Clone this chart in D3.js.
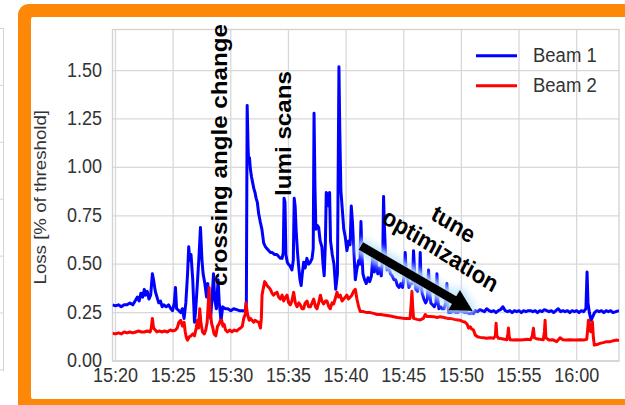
<!DOCTYPE html>
<html>
<head>
<meta charset="utf-8">
<script src="https://cdn.jsdelivr.net/npm/d3@7"></script>
<style>
  html, body { margin: 0; padding: 0; background: #fff; }
  svg { display: block; font-family: "Liberation Sans", Arial, sans-serif; }
</style>
</head>
<body>
<svg id="chart" width="625" height="405"></svg>
<script>
// Beam loss, minutes after 15:20 -> loss [% of threshold]
const beam1 = [
  [-0.26,0.29],[0.0,0.285],[0.25,0.29],[0.5,0.28],[0.75,0.29],[1.0,0.29],[1.25,0.30],[1.5,0.29],
  [1.7,0.31],[1.9,0.33],[2.05,0.31],[2.2,0.35],[2.35,0.33],[2.5,0.37],[2.6,0.34],[2.75,0.36],
  [2.9,0.32],[3.05,0.34],[3.2,0.45],[3.3,0.42],[3.45,0.36],[3.6,0.33],[3.75,0.30],[3.9,0.31],
  [4.05,0.28],[4.2,0.29],[4.4,0.28],[4.6,0.29],[4.8,0.27],[4.95,0.26],[5.1,0.30],[5.2,0.38],
  [5.3,0.27],[5.5,0.26],[5.65,0.25],[5.8,0.27],[5.95,0.22],[6.1,0.30],[6.25,0.45],[6.35,0.59],
  [6.45,0.52],[6.55,0.55],[6.7,0.42],[6.85,0.20],[6.95,0.26],[7.1,0.40],[7.25,0.55],[7.37,0.69],
  [7.5,0.52],[7.6,0.45],[7.75,0.40],[7.9,0.33],[8.0,0.40],[8.1,0.30],[8.25,0.22],[8.4,0.35],
  [8.5,0.45],[8.6,0.32],[8.75,0.27],[8.9,0.42],[9.0,0.30],[9.15,0.21],[9.3,0.28],[9.5,0.27],
  [9.75,0.27],[10.0,0.26],[10.25,0.27],[10.5,0.265],[10.75,0.26],[11.0,0.26],[11.25,0.26],[11.35,0.30],
  [11.42,1.32],[11.5,1.10],[11.55,1.03],[11.62,1.05],[11.7,0.99],[11.8,0.95],[11.9,0.92],[12.0,0.89],
  [12.1,0.87],[12.2,0.84],[12.3,0.82],[12.42,0.76],[12.55,0.72],[12.7,0.68],[12.85,0.61],[13.0,0.59],
  [13.15,0.58],[13.3,0.57],[13.45,0.56],[13.6,0.56],[13.8,0.55],[14.0,0.55],[14.15,0.54],[14.3,0.53],
  [14.45,0.53],[14.55,0.56],[14.62,0.84],[14.7,0.82],[14.78,0.55],[14.9,0.51],[15.0,0.50],[15.15,0.49],
  [15.3,0.47],[15.42,0.52],[15.5,0.84],[15.58,0.80],[15.68,0.66],[15.8,0.55],[15.9,0.48],[16.0,0.42],
  [16.1,0.39],[16.2,0.45],[16.32,0.51],[16.45,0.48],[16.6,0.53],[16.75,0.50],[16.9,0.51],[17.05,0.53],
  [17.15,0.58],[17.22,1.28],[17.3,0.90],[17.38,0.68],[17.5,0.70],[17.62,0.69],[17.75,0.62],[17.9,0.59],
  [18.0,0.50],[18.1,0.44],[18.2,0.60],[18.28,0.87],[18.4,0.86],[18.5,0.80],[18.57,0.87],[18.65,0.62],
  [18.8,0.55],[18.95,0.50],[19.1,0.37],[19.25,0.45],[19.38,1.52],[19.45,1.20],[19.55,0.88],[19.65,0.80],
  [19.8,0.68],[19.93,0.64],[20.07,0.57],[20.22,0.62],[20.35,0.60],[20.45,0.80],[20.55,0.72],[20.65,0.60],
  [20.8,0.42],[20.95,0.48],[21.1,0.52],[21.2,0.50],[21.29,0.72],[21.38,0.55],[21.46,0.45],[21.6,0.42],
  [21.75,0.40],[21.9,0.43],[22.05,0.41],[22.2,0.44],[22.35,0.57],[22.45,0.46],[22.6,0.52],[22.75,0.45],
  [22.9,0.48],[23.05,0.44],[23.18,0.55],[23.25,0.85],[23.32,0.70],[23.42,0.55],[23.55,0.47],[23.7,0.49],
  [23.85,0.45],[24.0,0.44],[24.15,0.42],[24.3,0.42],[24.45,0.39],[24.6,0.38],[24.75,0.40],[24.9,0.38],
  [25.05,0.45],[25.13,0.56],[25.22,0.44],[25.35,0.42],[25.45,0.38],[25.6,0.40],[25.75,0.40],[25.85,0.57],
  [25.95,0.45],[26.05,0.37],[26.2,0.36],[26.35,0.40],[26.43,0.56],[26.5,0.40],[26.6,0.35],[26.75,0.32],
  [26.9,0.30],[27.05,0.32],[27.15,0.47],[27.25,0.36],[27.35,0.30],[27.5,0.29],[27.65,0.28],[27.8,0.30],
  [27.88,0.45],[27.95,0.32],[28.05,0.27],[28.2,0.28],[28.35,0.27],[28.5,0.27],[28.65,0.30],[28.74,0.40],
  [28.82,0.30],[28.9,0.25],[29.1,0.25],[29.3,0.26],[29.5,0.25],[29.7,0.25],[29.9,0.26],[30.1,0.255],
  [30.3,0.25],[30.5,0.25],[30.7,0.245],[30.9,0.25],[31.05,0.245],[31.2,0.26],[31.4,0.255],[31.6,0.265],
  [31.8,0.26],[32.0,0.255],[32.2,0.27],[32.4,0.26],[32.6,0.255],[32.8,0.26],[33.0,0.25],[33.2,0.26],
  [33.4,0.265],[33.6,0.28],[33.8,0.26],[34.0,0.255],[34.2,0.26],[34.4,0.25],[34.6,0.26],[34.8,0.255],
  [35.0,0.26],[35.2,0.25],[35.4,0.26],[35.6,0.255],[35.8,0.26],[36.0,0.26],[36.2,0.255],[36.4,0.26],
  [36.6,0.25],[36.8,0.26],[37.0,0.255],[37.2,0.265],[37.4,0.26],[37.6,0.255],[37.8,0.26],[38.0,0.25],
  [38.2,0.26],[38.4,0.27],[38.6,0.255],[38.8,0.26],[39.0,0.255],[39.2,0.26],[39.4,0.25],[39.6,0.26],
  [39.8,0.255],[40.0,0.26],[40.2,0.25],[40.4,0.26],[40.6,0.255],[40.8,0.27],[40.9,0.46],[40.98,0.30],
  [41.1,0.25],[41.25,0.21],[41.4,0.23],[41.55,0.25],[41.75,0.26],[41.95,0.255],[42.15,0.26],[42.35,0.25],
  [42.55,0.26],[42.75,0.255],[42.95,0.26],[43.15,0.25],[43.4,0.255],[43.67,0.26]
];

const beam2 = [
  [-0.26,0.143],[0.0,0.14],[0.25,0.145],[0.5,0.14],[0.75,0.15],[1.0,0.145],[1.25,0.15],[1.5,0.145],
  [1.75,0.15],[2.0,0.155],[2.25,0.15],[2.5,0.15],[2.75,0.155],[3.0,0.15],[3.1,0.17],[3.2,0.22],
  [3.3,0.17],[3.45,0.16],[3.6,0.15],[3.8,0.155],[4.0,0.15],[4.25,0.155],[4.5,0.15],[4.75,0.16],
  [5.0,0.155],[5.2,0.16],[5.35,0.17],[5.5,0.20],[5.66,0.21],[5.8,0.18],[5.95,0.20],[6.05,0.15],
  [6.15,0.12],[6.25,0.108],[6.4,0.125],[6.55,0.13],[6.7,0.14],[6.85,0.13],[7.0,0.17],[7.11,0.21],
  [7.2,0.17],[7.31,0.27],[7.4,0.20],[7.55,0.15],[7.7,0.14],[7.83,0.16],[7.95,0.20],[8.05,0.30],
  [8.12,0.38],[8.2,0.25],[8.26,0.23],[8.35,0.19],[8.41,0.18],[8.55,0.14],[8.7,0.13],[8.85,0.18],
  [8.98,0.19],[9.1,0.21],[9.21,0.21],[9.32,0.18],[9.42,0.19],[9.55,0.16],[9.71,0.15],[9.9,0.16],
  [10.1,0.15],[10.3,0.16],[10.5,0.155],[10.7,0.165],[10.85,0.17],[11.0,0.18],[11.12,0.22],[11.25,0.24],
  [11.32,0.30],[11.4,0.26],[11.5,0.23],[11.6,0.21],[11.7,0.22],[11.85,0.21],[11.99,0.20],[12.1,0.21],
  [12.25,0.205],[12.42,0.20],[12.57,0.17],[12.65,0.22],[12.71,0.34],[12.8,0.37],[12.94,0.41],[13.05,0.40],
  [13.14,0.39],[13.3,0.38],[13.43,0.37],[13.58,0.35],[13.72,0.34],[13.85,0.35],[14.01,0.355],[14.15,0.33],
  [14.3,0.32],[14.45,0.34],[14.59,0.31],[14.75,0.33],[14.88,0.34],[15.02,0.30],[15.16,0.29],[15.3,0.31],
  [15.45,0.355],[15.6,0.30],[15.74,0.28],[15.9,0.30],[16.03,0.29],[16.18,0.27],[16.32,0.27],[16.45,0.30],
  [16.61,0.31],[16.75,0.28],[16.9,0.28],[17.05,0.30],[17.19,0.32],[17.35,0.28],[17.48,0.27],[17.62,0.30],
  [17.77,0.34],[17.9,0.31],[18.05,0.295],[18.2,0.31],[18.34,0.31],[18.5,0.28],[18.63,0.27],[18.78,0.30],
  [18.92,0.295],[19.05,0.32],[19.21,0.355],[19.35,0.33],[19.5,0.34],[19.65,0.31],[19.79,0.32],[19.93,0.33],
  [20.07,0.34],[20.2,0.32],[20.36,0.33],[20.5,0.34],[20.65,0.36],[20.8,0.37],[20.94,0.32],[21.09,0.28],
  [21.23,0.255],[21.5,0.255],[21.81,0.25],[22.1,0.25],[22.38,0.246],[22.7,0.24],[23.0,0.24],[23.25,0.238],
  [23.55,0.235],[23.85,0.232],[24.12,0.229],[24.45,0.225],[24.8,0.222],[25.1,0.22],[25.27,0.22],[25.55,0.22],
  [25.65,0.30],[25.71,0.36],[25.78,0.28],[25.85,0.22],[26.15,0.215],[26.43,0.212],[26.7,0.22],[26.87,0.24],
  [27.01,0.23],[27.3,0.23],[27.59,0.229],[27.9,0.225],[28.16,0.229],[28.5,0.225],[28.8,0.22],[29.03,0.22],
  [29.4,0.215],[29.7,0.212],[29.9,0.21],[30.1,0.205],[30.33,0.20],[30.5,0.19],[30.62,0.17],[30.76,0.177],
  [30.9,0.165],[31.05,0.16],[31.2,0.134],[31.4,0.125],[31.63,0.122],[31.9,0.12],[32.2,0.118],[32.5,0.12],
  [32.78,0.117],[32.95,0.13],[33.01,0.195],[33.08,0.13],[33.22,0.117],[33.5,0.115],[33.75,0.112],[33.94,0.11],
  [34.03,0.14],[34.08,0.17],[34.15,0.125],[34.23,0.11],[34.5,0.108],[34.8,0.11],[35.1,0.108],[35.4,0.11],
  [35.7,0.112],[36.0,0.11],[36.15,0.13],[36.25,0.169],[36.33,0.12],[36.5,0.115],[36.8,0.112],[37.1,0.11],
  [37.2,0.15],[37.26,0.21],[37.33,0.12],[37.6,0.108],[37.9,0.11],[38.27,0.10],[38.56,0.12],[38.8,0.11],
  [39.1,0.108],[39.4,0.11],[39.7,0.108],[40.0,0.108],[40.3,0.11],[40.6,0.108],[40.87,0.112],[40.95,0.16],
  [41.02,0.211],[41.1,0.17],[41.22,0.151],[41.3,0.19],[41.36,0.203],[41.45,0.12],[41.53,0.082],[41.75,0.085],
  [42.02,0.091],[42.3,0.095],[42.6,0.10],[42.9,0.10],[43.2,0.105],[43.47,0.108],[43.67,0.105]
];

const seriesNames = ["Beam 1", "Beam 2"];
const seriesColors = ["#0000ff", "#ff0000"];
const yTicks = [0, 0.25, 0.5, 0.75, 1.0, 1.25, 1.5];
const yLabel = "Loss [% of threshold]";

// Event annotations, placed in data coordinates (minutes after 15:20, loss)
const eventLabels = [
  { text: "crossing angle change", m: 9.66, v: 0.387 },
  { text: "lumi scans", m: 15.21, v: 0.852 }
];
const tuneLines = [
  { text: "tune", m: 29.33, v: 0.708 },
  { text: "optimization", m: 28.2, v: 0.573 }
];
const tuneArrow = { from: [21.27, 0.594], to: [31.0, 0.258] };

const start = new Date(2017, 5, 1, 15, 20, 0);
const at = m => new Date(start.getTime() + m * 60000);

const svg = d3.select("#chart");
const plot = { left: 112.5, right: 619, top: 29.5, bottom: 361 };
const stretch = 1.1;

const x = d3.scaleTime().domain([at(-0.26), at(43.67)]).range([plot.left, plot.right]);
const y = d3.scaleLinear().domain([0, 1.712]).range([plot.bottom, plot.top]);

const defs = svg.append("defs");
defs.append("clipPath").attr("id", "plotClip")
  .append("rect")
  .attr("x", plot.left).attr("y", plot.top)
  .attr("width", plot.right - plot.left).attr("height", plot.bottom - plot.top);

// Soft light-blue halo behind the arrow
const glow = defs.append("filter").attr("id", "glow")
  .attr("x", "-30%").attr("y", "-30%").attr("width", "160%").attr("height", "160%");
glow.append("feMorphology").attr("in", "SourceAlpha").attr("operator", "dilate").attr("radius", 3).attr("result", "d");
glow.append("feGaussianBlur").attr("in", "d").attr("stdDeviation", 3.5).attr("result", "b");
glow.append("feFlood").attr("flood-color", "#c4e8fc").attr("flood-opacity", 0.95);
glow.append("feComposite").attr("in2", "b").attr("operator", "in").attr("result", "g");
const gm = glow.append("feMerge");
gm.append("feMergeNode").attr("in", "g");
gm.append("feMergeNode").attr("in", "SourceGraphic");

// Neighbouring panel edge on the far left
const side = svg.append("g").attr("stroke", "#d4d4d4").attr("stroke-width", 1);
side.append("line").attr("x1", 3.5).attr("x2", 3.5).attr("y1", 28).attr("y2", 371);
d3.range(7).forEach(i => {
  const yy = 28.5 + i * 56.9;
  side.append("line").attr("x1", 0).attr("x2", 3.5).attr("y1", yy).attr("y2", yy);
});

// Orange highlight frame
svg.append("rect").attr("x", 18).attr("y", 4).attr("width", 660).attr("height", 440)
  .attr("rx", 11).attr("fill", "#fd8706");
svg.append("rect").attr("x", 31).attr("y", 17).attr("width", 640).attr("height", 382)
  .attr("rx", 2).attr("fill", "#ffffff");

// Grid
const grid = svg.append("g").attr("stroke", "#d8d8d8").attr("stroke-width", 1.3);
const xTicks = x.ticks(d3.timeMinute.every(5));
grid.selectAll(".gx").data(xTicks).join("line")
  .attr("x1", d => x(d)).attr("x2", d => x(d))
  .attr("y1", plot.top).attr("y2", plot.bottom);
grid.selectAll(".gy").data(yTicks).join("line")
  .attr("x1", plot.left).attr("x2", plot.right)
  .attr("y1", d => y(d)).attr("y2", d => y(d));
svg.append("rect")
  .attr("x", plot.left).attr("y", plot.top)
  .attr("width", plot.right - plot.left).attr("height", plot.bottom - plot.top)
  .attr("fill", "none").attr("stroke", "#d2d2d2").attr("stroke-width", 1.3);

// Series
const line = d3.line().x(d => x(at(d[0]))).y(d => y(d[1]));
const lines = svg.append("g").attr("clip-path", "url(#plotClip)");
[beam1, beam2].forEach((s, i) => {
  lines.append("path").datum(s)
    .attr("d", line)
    .attr("fill", "none")
    .attr("stroke", seriesColors[i])
    .attr("stroke-width", 3)
    .attr("stroke-linejoin", "round");
});

// Stretched text helper
function label(g, tx, ty, rot, str, opts) {
  const t = g.append("g").attr("transform", `translate(${tx},${ty}) scale(1,${stretch}) rotate(${rot})`)
    .append("text").text(str);
  Object.entries(opts).forEach(([k, v]) => t.attr(k, v));
  return t;
}

// Tick labels
const tickFmt = d3.timeFormat("%H:%M");
const tl = svg.append("g").attr("fill", "#333");
xTicks.forEach(d => label(tl, x(d), 382, 0, tickFmt(d), { "text-anchor": "middle", "font-size": 18 }));
yTicks.forEach(d => label(tl, 102, y(d) + 6, 0, d3.format(".2f")(d), { "text-anchor": "end", "font-size": 18 }));

// Axis title
label(tl, 46, (plot.top + plot.bottom) / 2 + 2, -90, yLabel, { "text-anchor": "middle", "font-size": 17 });

// Legend
const lg = svg.append("g");
seriesNames.forEach((n, i) => {
  const ly = 55.7 + i * 30;
  lg.append("line").attr("x1", 476).attr("x2", 517).attr("y1", ly).attr("y2", ly)
    .attr("stroke", seriesColors[i]).attr("stroke-width", 3);
  label(lg, 533, ly + 6.2, 0, n, { "font-size": 18.5, fill: "#333" });
});

// Event annotations
const ann = svg.append("g").attr("font-weight", "bold").attr("fill", "#000");
eventLabels.forEach(e => label(ann, x(at(e.m)), y(e.v), -90, e.text, { "font-size": 22 }));
tuneLines.forEach(e => label(ann, x(at(e.m)), y(e.v), 30, e.text,
  { "font-size": 22, "text-anchor": "middle", "dominant-baseline": "central" }));

// Arrow with halo
const p0 = [x(at(tuneArrow.from[0])), y(tuneArrow.from[1])];
const p1 = [x(at(tuneArrow.to[0])), y(tuneArrow.to[1])];
const len = Math.hypot(p1[0] - p0[0], p1[1] - p0[1]);
const u = [(p1[0] - p0[0]) / len, (p1[1] - p0[1]) / len];
const nrm = [-u[1], u[0]];
const hw = 4.5, hh = 12, hl = 22;
const hb = [p1[0] - u[0] * hl, p1[1] - u[1] * hl];
const pt = (b, k) => [b[0] + nrm[0] * k, b[1] + nrm[1] * k];
const arrowPts = [pt(p0, hw), pt(hb, hw), pt(hb, hh), p1, pt(hb, -hh), pt(hb, -hw), pt(p0, -hw)];
svg.append("path")
  .attr("d", "M" + arrowPts.map(p => p.join(",")).join("L") + "Z")
  .attr("fill", "#000")
  .attr("filter", "url(#glow)");
</script>
</body>
</html>
